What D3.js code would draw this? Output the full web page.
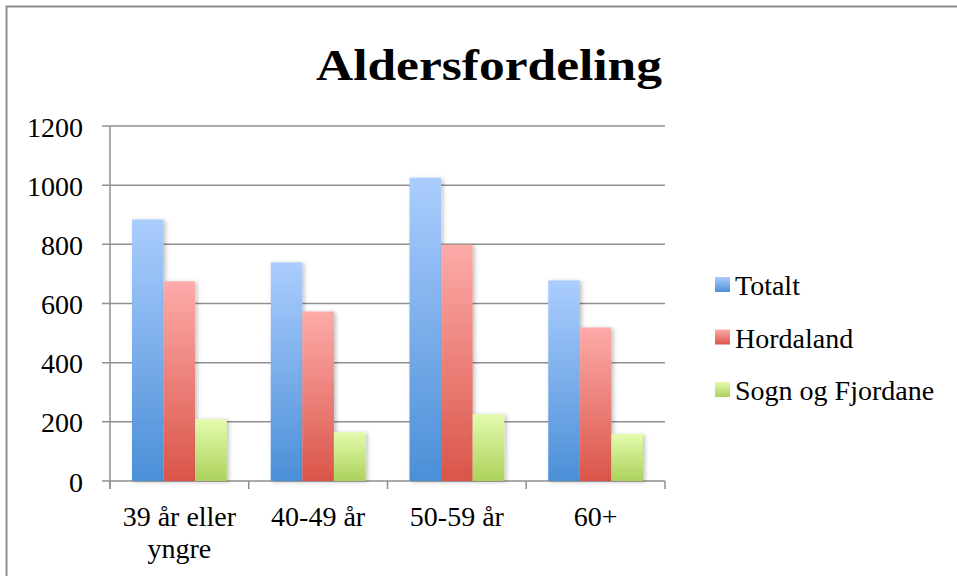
<!DOCTYPE html>
<html>
<head>
<meta charset="utf-8">
<script src="https://cdn.jsdelivr.net/npm/d3@7"></script>
<style>
  body { margin: 0; background: #fff; }
  text { font-family: "Liberation Serif", "DejaVu Serif", serif; fill: #000; }
</style>
</head>
<body>
<svg id="chart"></svg>
<script>
const categories = ['39 år eller|yngre', '40-49 år', '50-59 år', '60+'];
const seriesNames = ['Totalt', 'Hordaland', 'Sogn og Fjordane'];
const totalt = [884, 739, 1025, 678];
const hordaland = [675, 573, 799, 519];
const sogn = [209, 165, 226, 159];
const yTicks = [0, 200, 400, 600, 800, 1000, 1200];

const COLORS = {
  'Totalt': ['#abcdfe', '#4b8fd7'],
  'Hordaland': ['#fdaba9', '#da5549'],
  'Sogn og Fjordane': ['#e4fbad', '#acd15c']
};

const values = { 'Totalt': totalt, 'Hordaland': hordaland, 'Sogn og Fjordane': sogn };
const data = categories.map((c, i) => {
  const row = { cat: c };
  seriesNames.forEach(s => row[s] = values[s][i]);
  return row;
});

const W = 957, H = 576;
const margin = { top: 126, right: 292, bottom: 95, left: 110 };
const width = W - margin.left - margin.right;
const height = H - margin.top - margin.bottom;

const root = d3.select('#chart').attr('width', W).attr('height', H);

const defs = root.append('defs');
seriesNames.forEach((s, i) => {
  const g = defs.append('linearGradient')
    .attr('id', 'grad' + i)
    .attr('x1', 0).attr('y1', 0).attr('x2', 0).attr('y2', 1);
  g.append('stop').attr('offset', '0%').attr('stop-color', COLORS[s][0]);
  g.append('stop').attr('offset', '100%').attr('stop-color', COLORS[s][1]);
});
const shadow = defs.append('filter').attr('id', 'shadow')
  .attr('x', '-20%').attr('y', '-5%').attr('width', '150%').attr('height', '115%');
shadow.append('feDropShadow').attr('dx', 2).attr('dy', 1).attr('stdDeviation', 2)
  .attr('flood-color', '#000').attr('flood-opacity', 0.25);

// outer frame
root.append('rect')
  .attr('x', 6.5).attr('y', 6.5).attr('width', W + 10).attr('height', H + 10)
  .attr('fill', 'none').attr('stroke', '#8e8e8e').attr('stroke-width', 2);

root.append('text')
  .attr('x', 489).attr('y', 80)
  .attr('text-anchor', 'middle')
  .attr('font-size', 44).attr('font-weight', 'bold')
  .attr('textLength', 346).attr('lengthAdjust', 'spacingAndGlyphs')
  .text('Aldersfordeling');

const svg = root.append('g').attr('transform', `translate(${margin.left},${margin.top})`);

const x0 = d3.scaleBand().domain(categories).range([0, width]).padding(0);
const x1 = d3.scaleBand().domain(seriesNames).range([22, x0.bandwidth() - 22]).padding(0);
const y = d3.scaleLinear().domain([0, 1200]).range([height, 0]);

// gridlines
svg.append('g')
  .selectAll('line')
  .data(yTicks)
  .enter()
  .append('line')
  .attr('x1', -8).attr('x2', width)
  .attr('y1', d => y(d)).attr('y2', d => y(d))
  .attr('stroke', '#8f8f8f').attr('stroke-width', 1.5);

// y labels
svg.append('g')
  .selectAll('text')
  .data(yTicks)
  .enter()
  .append('text')
  .attr('x', -27).attr('y', d => y(d))
  .attr('dy', '0.38em')
  .attr('text-anchor', 'end')
  .attr('font-size', 28)
  .text(d => d);

// bars
const groups = svg.append('g')
  .selectAll('g')
  .data(data)
  .enter()
  .append('g')
  .attr('transform', d => `translate(${x0(d.cat)},0)`);

groups.selectAll('rect')
  .data(d => seriesNames.map((s, i) => ({ key: s, i, value: d[s] })))
  .enter()
  .append('rect')
  .attr('x', d => x1(d.key))
  .attr('y', d => y(d.value))
  .attr('width', x1.bandwidth())
  .attr('height', d => height - y(d.value))
  .attr('fill', d => `url(#grad${d.i})`)
  .attr('filter', 'url(#shadow)');

// axes lines
svg.append('line')
  .attr('x1', 0).attr('x2', 0).attr('y1', 0).attr('y2', height + 8)
  .attr('stroke', '#8f8f8f').attr('stroke-width', 1.5);

const xTickPos = categories.map(c => x0(c)).concat([width]);
svg.append('g')
  .selectAll('line')
  .data(xTickPos)
  .enter()
  .append('line')
  .attr('x1', d => d).attr('x2', d => d)
  .attr('y1', height).attr('y2', height + 8)
  .attr('stroke', '#8f8f8f').attr('stroke-width', 1.5);

// x labels
const xl = svg.append('g')
  .selectAll('text')
  .data(categories)
  .enter()
  .append('text')
  .attr('x', d => x0(d) + x0.bandwidth() / 2)
  .attr('y', height + 45)
  .attr('text-anchor', 'middle')
  .attr('font-size', 28);
xl.each(function(d) {
  const parts = d.split('|');
  parts.forEach((p, i) => {
    d3.select(this).append('tspan')
      .attr('x', x0(d) + x0.bandwidth() / 2)
      .attr('dy', i === 0 ? 0 : 32)
      .text(p);
  });
});

// legend
const legend = root.append('g')
  .selectAll('g')
  .data(seriesNames)
  .enter()
  .append('g')
  .attr('transform', (d, i) => `translate(715,${295 + i * 52.5})`);

legend.append('rect')
  .attr('x', 0).attr('y', -18)
  .attr('width', 15).attr('height', 15)
  .attr('fill', (d, i) => `url(#grad${i})`);

legend.append('text')
  .attr('x', 20).attr('y', 0)
  .attr('font-size', 28)
  .text(d => d);
</script>
</body>
</html>
